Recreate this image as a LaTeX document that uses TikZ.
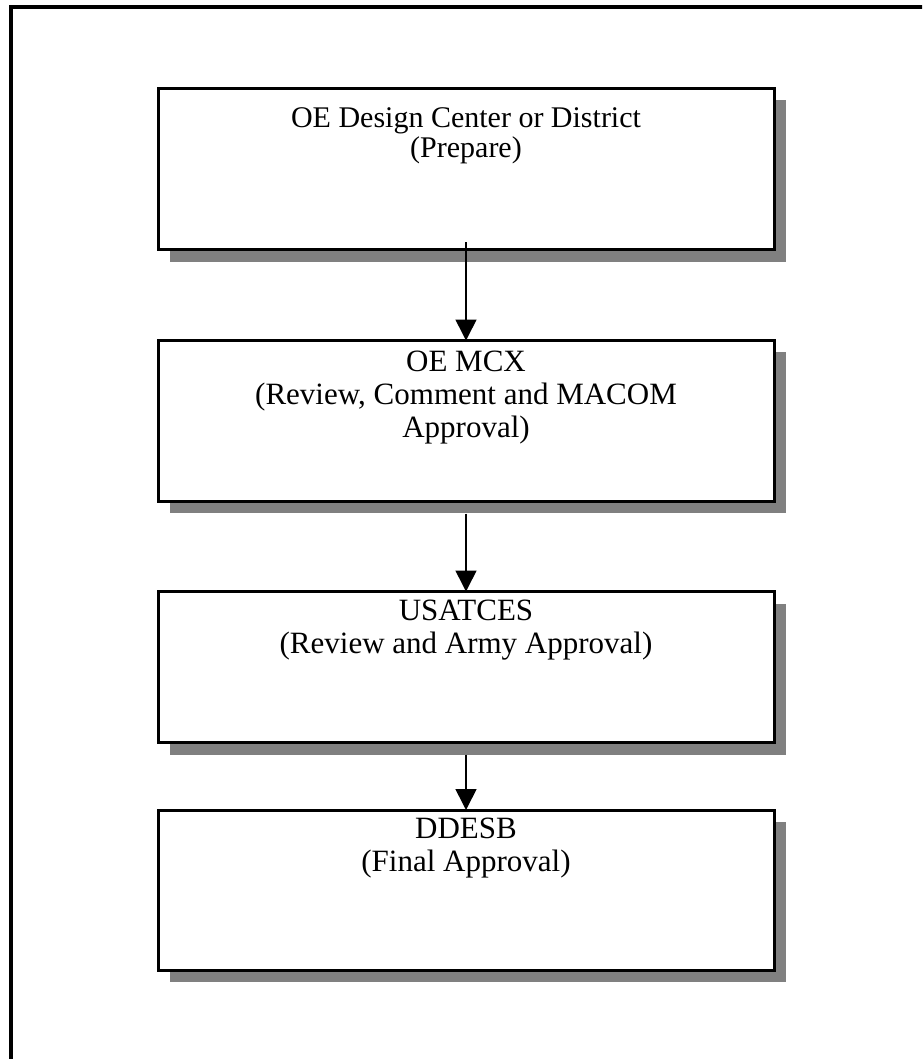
\documentclass[tikz,border=0pt]{standalone}
\usepackage{fontspec}
\setmainfont{Liberation Serif}
\usetikzlibrary{arrows.meta}
\tikzset{
  box/.style={draw=black, line width=3pt, fill=white, minimum width=616pt, inner sep=0pt, outer sep=0pt},
  shade/.style={fill=black!50, draw=none},
  lbl/.style={align=center, inner sep=0pt, anchor=north, font=\fontsize{31pt}{33pt}\selectfont},
  conn/.style={line width=1.6pt, -{Triangle[width=21pt,length=21pt]}},
  frame/.style={draw=black, line width=4pt}
}
\begin{document}
\begin{tikzpicture}[x=1pt,y=-1pt]
\clip (0,0) rectangle (922,1059);
\useasboundingbox (0,0) rectangle (922,1059);
\fill[white] (0,0) rectangle (922,1059);
\draw[frame] (11,7) rectangle (960,1100);
% shadows
\fill[shade] (170,100) rectangle (786,262);
\fill[shade] (170,352) rectangle (786,513);
\fill[shade] (170,604) rectangle (786,755);
\fill[shade] (170,822) rectangle (786,982);
% boxes
\node[box, minimum height=161pt] (b1) at (466,169) {};
\node[box, minimum height=161pt] (b2) at (466,421) {};
\node[box, minimum height=151pt] (b3) at (466,667) {};
\node[box, minimum height=160pt] (b4) at (466,890) {};
% labels
\node[lbl, font=\fontsize{30pt}{30pt}\selectfont] (t1) at ([yshift=-19pt]b1.north) {OE Design Center or District\\(Prepare)};
\node[lbl] (t2) at ([yshift=-10pt]b2.north) {OE MCX\\(Review, Comment and MACOM\\Approval)};
\node[lbl] (t3) at ([yshift=-8pt]b3.north) {USATCES\\(Review and Army Approval)};
\node[lbl] (t4) at ([yshift=-8pt]b4.north) {DDESB\\(Final Approval)};
% connectors
\coordinate (s1) at ([yshift=7pt]b1.south);
\coordinate (s2) at ([yshift=-12pt]b2.south);
\coordinate (s3) at ([yshift=-12pt]b3.south);
\draw[conn] (s1) -- (b2.north);
\draw[conn] (s2) -- (b3.north);
\draw[conn] (s3) -- (b4.north);
\end{tikzpicture}
\end{document}
